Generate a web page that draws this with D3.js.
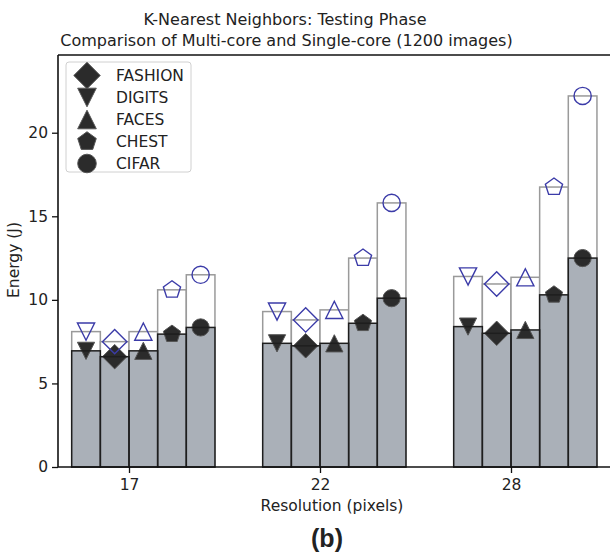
<!DOCTYPE html>
<html>
<head>
<meta charset="utf-8">
<script src="https://cdn.jsdelivr.net/npm/d3@7"></script>
<style>
  body { margin: 0; background: #fff; }
  text { font-family: "DejaVu Sans", sans-serif; fill: #222; }
</style>
</head>
<body>
<div class="chart"></div>
<script>
// data
var resolutions = ["17", "22", "28"];
var datasets = ["DIGITS", "FASHION", "FACES", "CHEST", "CIFAR"];   // bar order inside a group
var legendOrder = ["FASHION", "DIGITS", "FACES", "CHEST", "CIFAR"];
// single-core (taller, outlined) energy
var singleCore = [
  [8.1, 7.5, 8.1, 10.6, 11.5],
  [9.3, 8.8, 9.4, 12.5, 15.8],
  [11.4, 10.95, 11.35, 16.75, 22.2]
];
// multi-core (grey filled) energy
var multiCore = [
  [6.95, 6.6, 6.95, 7.95, 8.35],
  [7.4, 7.25, 7.4, 8.6, 10.1],
  [8.4, 8.0, 8.2, 10.3, 12.5]
];
var yTicks = [0, 5, 10, 15, 20];

var svgWidth = 610;
var svgHeight = 555;
var margin = { top: 55, right: 0, bottom: 88, left: 58 };
var height = svgHeight - margin.top - margin.bottom;
var labelSize = "15.5px";

var svg = d3.select(".chart")
  .append("svg")
  .attr("width", svgWidth)
  .attr("height", svgHeight);

var x = d3.scalePoint()
  .domain(resolutions)
  .range([129, 511]);
var step = x(resolutions[1]) - x(resolutions[0]);
var barW = step * 0.15;

var y = d3.scaleLinear()
  .domain([0, 24.65])
  .range([margin.top + height, margin.top]);

// marker shapes (matplotlib-like)
function markerPath(name, s) {
  var p = d3.path();
  if (name === "CIFAR") {
    p.arc(0, 0, s, 0, 2 * Math.PI);
  } else if (name === "DIGITS") {
    p.moveTo(0, s); p.lineTo(-s, -s); p.lineTo(s, -s); p.closePath();
  } else if (name === "FACES") {
    p.moveTo(0, -s); p.lineTo(-s, s); p.lineTo(s, s); p.closePath();
  } else if (name === "FASHION") {
    var r = s * 1.42;
    p.moveTo(0, -r); p.lineTo(r, 0); p.lineTo(0, r); p.lineTo(-r, 0); p.closePath();
  } else {
    var rr = s * 1.05;
    for (var i = 0; i < 5; i++) {
      var a = -Math.PI / 2 + i * 2 * Math.PI / 5;
      if (i === 0) p.moveTo(rr * Math.cos(a), rr * Math.sin(a));
      else p.lineTo(rr * Math.cos(a), rr * Math.sin(a));
    }
    p.closePath();
  }
  return p.toString();
}

var cells = [];
resolutions.forEach(function(res, g) {
  datasets.forEach(function(name, i) {
    cells.push({ res: res, name: name, i: i, single: singleCore[g][i], multi: multiCore[g][i] });
  });
});
function barX(d) { return x(d.res) + (d.i - 2) * barW; }

// tall single-core bars
svg.selectAll("rect.single").data(cells).enter()
  .append("rect")
  .attr("class", "single")
  .attr("x", barX)
  .attr("y", d => y(d.single))
  .attr("width", barW)
  .attr("height", d => y(0) - y(d.single))
  .attr("fill", "#fff")
  .attr("stroke", "#9a9a9a")
  .attr("stroke-width", 1.5);

// grey multi-core bars
svg.selectAll("rect.multi").data(cells).enter()
  .append("rect")
  .attr("class", "multi")
  .attr("x", barX)
  .attr("y", d => y(d.multi))
  .attr("width", barW)
  .attr("height", d => y(0) - y(d.multi))
  .attr("fill", "#aab0b8");

// black markers on multi-core
svg.selectAll("path.mMulti").data(cells).enter()
  .append("path")
  .attr("class", "mMulti")
  .attr("transform", d => `translate(${barX(d) + barW / 2},${y(d.multi)})`)
  .attr("d", d => markerPath(d.name, 8.6))
  .attr("fill", "#2b2b2b")
  .attr("stroke", "#555")
  .attr("stroke-width", 1);

// outline of grey bars on top of markers
svg.selectAll("rect.multiEdge").data(cells).enter()
  .append("rect")
  .attr("class", "multiEdge")
  .attr("x", barX)
  .attr("y", d => y(d.multi))
  .attr("width", barW)
  .attr("height", d => y(0) - y(d.multi))
  .attr("fill", "none")
  .attr("stroke", "#1e1e1e")
  .attr("stroke-width", 1.5);

// blue hollow markers on single-core
svg.selectAll("path.mSingle").data(cells).enter()
  .append("path")
  .attr("class", "mSingle")
  .attr("transform", d => `translate(${barX(d) + barW / 2},${y(d.single)})`)
  .attr("d", d => markerPath(d.name, 8.6))
  .attr("fill", "none")
  .attr("stroke", "#3b3ba8")
  .attr("stroke-width", 1.4);

// axes
var leftAxis = d3.axisLeft(y).tickValues(yTicks).tickSize(6).tickPadding(4);
var bottomAxis = d3.axisBottom(x).tickSize(6).tickPadding(6);

var gy = svg.append("g")
  .attr("transform", `translate(${margin.left},0)`)
  .call(leftAxis);
var gx = svg.append("g")
  .attr("transform", `translate(0,${y(0)})`)
  .call(bottomAxis);
[gx, gy].forEach(function(g) {
  g.select(".domain").remove();
  g.selectAll("line").attr("stroke", "#111").attr("stroke-width", 1.3);
  g.selectAll("text").style("font-family", "DejaVu Sans").style("font-size", labelSize).attr("fill", "#222");
});

// spines
svg.append("line").attr("x1", margin.left).attr("x2", margin.left)
  .attr("y1", margin.top).attr("y2", y(0))
  .attr("stroke", "#111").attr("stroke-width", 1.6);
svg.append("line").attr("x1", margin.left).attr("x2", svgWidth)
  .attr("y1", margin.top).attr("y2", margin.top)
  .attr("stroke", "#111").attr("stroke-width", 1.6);
svg.append("line").attr("x1", margin.left).attr("x2", svgWidth)
  .attr("y1", y(0)).attr("y2", y(0))
  .attr("stroke", "#111").attr("stroke-width", 1.6);

// legend
var legend = svg.append("g").attr("transform", "translate(66,62)");
legend.append("rect")
  .attr("width", 125).attr("height", 110)
  .attr("rx", 3)
  .attr("fill", "#fff")
  .attr("fill-opacity", 0.85)
  .attr("stroke", "#d0d0d0");
legendOrder.forEach(function(name, i) {
  var ly = 13.5 + i * 22;
  legend.append("path")
    .attr("transform", `translate(21,${ly})`)
    .attr("d", markerPath(name, 9.3))
    .attr("fill", "#2b2b2b")
    .attr("stroke", "#555")
    .attr("stroke-width", 1);
  legend.append("text")
    .attr("x", 50).attr("y", ly + 5.5)
    .style("font-size", labelSize)
    .text(name);
});

// titles and labels
svg.append("text").attr("x", 285).attr("y", 25)
  .attr("text-anchor", "middle").style("font-size", "16px")
  .text("K-Nearest Neighbors: Testing Phase");
svg.append("text").attr("x", 286.5).attr("y", 46)
  .attr("text-anchor", "middle").style("font-size", "16px")
  .text("Comparison of Multi-core and Single-core (1200 images)");

svg.append("text")
  .attr("transform", "rotate(-90)")
  .attr("x", -260).attr("y", 19)
  .attr("text-anchor", "middle").style("font-size", labelSize)
  .text("Energy (J)");

svg.append("text").attr("x", 332).attr("y", 511)
  .attr("text-anchor", "middle").style("font-size", labelSize)
  .text("Resolution (pixels)");

svg.append("text").attr("x", 327).attr("y", 547)
  .attr("text-anchor", "middle")
  .style("font-family", "Liberation Sans, Arial, sans-serif")
  .style("font-weight", "bold").style("font-size", "25px")
  .text("(b)");
</script>
</body>
</html>
